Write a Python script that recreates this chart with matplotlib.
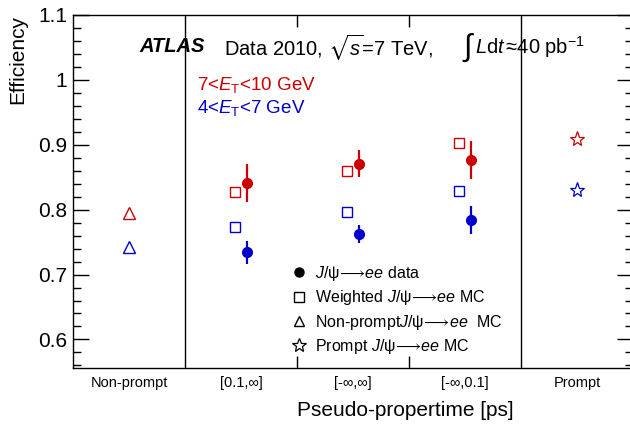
import numpy as np
import matplotlib
matplotlib.use("Agg")
import matplotlib.pyplot as plt
from matplotlib.lines import Line2D

plt.rcParams['font.family'] = ['Liberation Sans', 'DejaVu Sans']
plt.rcParams['mathtext.fontset'] = 'custom'
plt.rcParams['mathtext.rm'] = 'Liberation Sans'
plt.rcParams['mathtext.it'] = 'Liberation Sans:italic'
plt.rcParams['mathtext.bf'] = 'Liberation Sans:bold'
plt.rcParams['mathtext.fallback'] = 'stix'

# bins on the x axis
BinLabels = ['Non-prompt', '[0.1,∞]', '[-∞,∞]', '[-∞,0.1]', 'Prompt']
DataBins = [1, 2, 3]

# 7 < ET < 10 GeV (red)
DataHigh = [0.841, 0.871, 0.877]
DataHighErr = [0.029, 0.021, 0.029]
McHigh = [0.827, 0.859, 0.902]
NonPromptHigh = 0.795
PromptHigh = 0.909

# 4 < ET < 7 GeV (blue)
DataLow = [0.734, 0.762, 0.784]
DataLowErr = [0.017, 0.014, 0.022]
McLow = [0.774, 0.797, 0.829]
NonPromptLow = 0.743
PromptLow = 0.830

Red = '#cc0000'
Blue = '#0000cc'

fig = plt.figure(figsize=(6.3, 4.25), dpi=100)
ax = fig.add_axes([73/630, 1 - 368/425, 560/630, 353/425])

Centers = np.arange(len(BinLabels)) + 0.5
DataX = np.array(DataBins) + 0.55
McX = np.array(DataBins) + 0.45

for Col, Data, Err, Mc, NonPr, Pr in [(Red, DataHigh, DataHighErr, McHigh, NonPromptHigh, PromptHigh),
                                     (Blue, DataLow, DataLowErr, McLow, NonPromptLow, PromptLow)]:
    ax.errorbar(DataX, Data, yerr=Err, fmt='o', color=Col, ms=7, elinewidth=1.6, capsize=0, zorder=4)
    ax.plot(McX, Mc, 's', mfc='none', mec=Col, ms=7, mew=1.0, zorder=3)
    ax.plot([Centers[0]], [NonPr], '^', mfc='none', mec=Col, ms=8, mew=1.0, zorder=3)
    ax.plot([Centers[4]], [Pr], '*', mfc='none', mec=Col, ms=11, mew=0.9, zorder=3)

# bin separators
for Xs in [1, 4]:
    ax.axvline(Xs, color='black', lw=1.0, zorder=1)

ax.set_xlim(0, 5)
ax.set_ylim(0.556, 1.1)

ax.set_xticks([2, 3])
ax.set_xticklabels(['', ''])
ax.set_xticks(Centers, minor=True)
ax.set_xticklabels(BinLabels, minor=True, fontsize=10.5)
ax.tick_params(axis='x', which='major', direction='in', length=8.5, width=1, top=True)
ax.tick_params(axis='x', which='minor', length=0, pad=6)

ax.set_yticks([0.6, 0.7, 0.8, 0.9, 1.0, 1.1])
ax.set_yticklabels(['0.6', '0.7', '0.8', '0.9', '1', '1.1'])
ax.set_yticks(np.arange(0.56, 1.1, 0.02), minor=True)
ax.tick_params(axis='y', which='major', direction='in', length=11.5, width=1, right=True, labelsize=15, pad=4)
ax.tick_params(axis='y', which='minor', direction='in', length=6, width=1, right=True)
for Sp in ax.spines.values():
    Sp.set_linewidth(1.0)

fig.text(18/630, 1 - 15/425, 'Efficiency', rotation=90, ha='center', va='top', fontsize=15)
fig.text(405/630, 1 - 410/425, 'Pseudo-propertime [ps]', ha='center', va='center', fontsize=15)

fig.text(139/630, 1 - 47/425, 'ATLAS', fontsize=14.5, fontweight='bold', style='italic',
         ha='left', va='center')
fig.text(224/630, 1 - 47/425, r'Data 2010, $\sqrt{s}$=7 TeV,', fontsize=14.5, ha='left', va='center')
fig.text(463/630, 1 - 48/425, '∫', fontsize=22, ha='left', va='center')
fig.text(475/630, 1 - 47/425, r'$L$d$t\,$≈40 pb$^{-1}$', fontsize=14.5, ha='left', va='center')
fig.text(197/630, 1 - 85/425, r'7<$E_\mathrm{T}$<10 GeV', color=Red, fontsize=13.5, ha='left', va='center')
fig.text(197/630, 1 - 108/425, r'4<$E_\mathrm{T}$<7 GeV', color=Blue, fontsize=13.5, ha='left', va='center')

Psi = r'$J/$ψ$\!\longrightarrow\!$$ee$'
Handles = [Line2D([], [], ls='none', marker='o', color='black', ms=6.5),
           Line2D([], [], ls='none', marker='s', mfc='none', mec='black', ms=6.5, mew=1.0),
           Line2D([], [], ls='none', marker='^', mfc='none', mec='black', ms=7.5, mew=1.0),
           Line2D([], [], ls='none', marker='*', mfc='none', mec='black', ms=10, mew=0.9)]
Labels = [Psi + ' data', 'Weighted ' + Psi + ' MC', 'Non-prompt' + Psi + '  MC', 'Prompt ' + Psi + ' MC']
ax.legend(Handles, Labels, loc='upper left', bbox_to_anchor=((291 - 73)/560, (368 - 264)/353),
          frameon=False, fontsize=11.5, handlelength=1.0, handletextpad=0.5, labelspacing=0.33,
          borderpad=0, borderaxespad=0)

fig.savefig('out.png', dpi=100)
